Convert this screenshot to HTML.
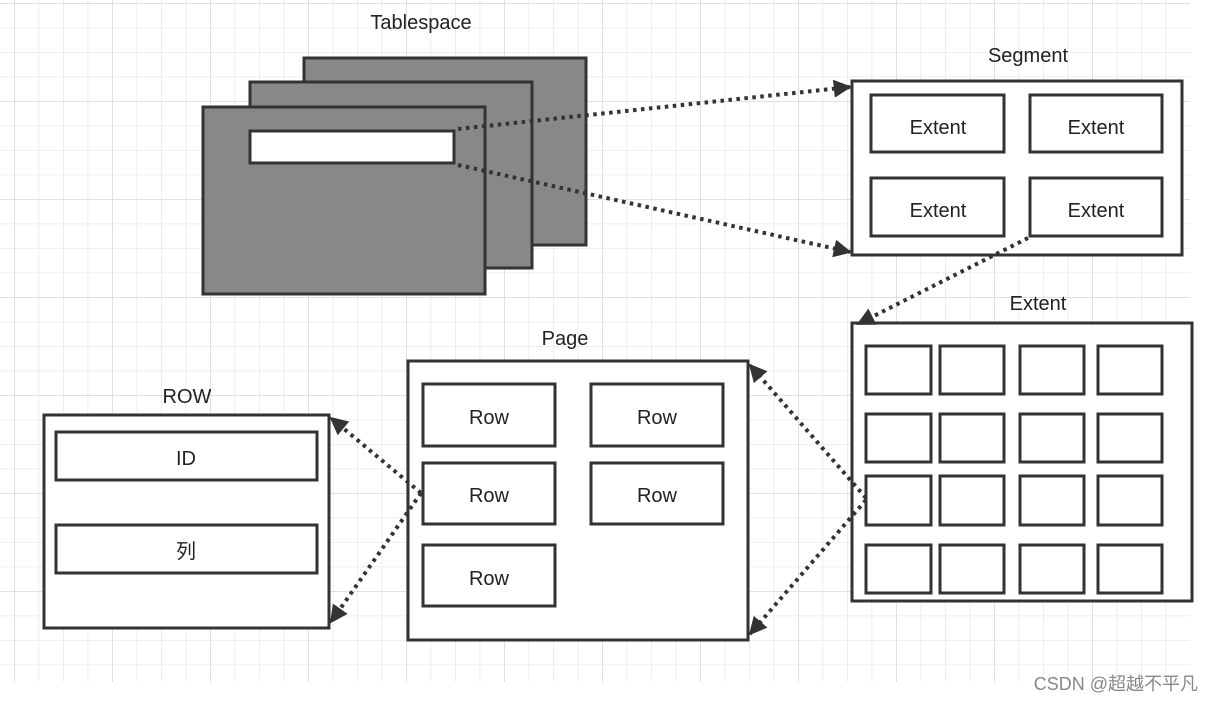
<!DOCTYPE html>
<html><head><meta charset="utf-8"><style>
html,body{margin:0;padding:0;background:#fff;}
svg{display:block;}
text{font-family:"Liberation Sans","Noto Sans CJK SC",sans-serif;fill:#222;}
</style></head><body>
<svg width="1214" height="702" viewBox="0 0 1214 702" xmlns="http://www.w3.org/2000/svg">
<defs>
<pattern id="g" x="14" y="3" width="24.5" height="24.5" patternUnits="userSpaceOnUse">
<path d="M0 0V24.5M0 0H24.5" stroke="#e8e8e8" stroke-width="1.5" fill="none"/>
</pattern>
<pattern id="G" x="14" y="3" width="98" height="98" patternUnits="userSpaceOnUse">
<path d="M0 0V98M0 0H98" stroke="#e0e0e0" stroke-width="2" fill="none"/>
</pattern>
<marker id="b" viewBox="0 0 10 10" refX="9" refY="5" markerWidth="22" markerHeight="18" orient="auto" markerUnits="userSpaceOnUse">
<path d="M0 0L10 5L0 10z" fill="#333"/>
</marker>
</defs>
<rect x="0" y="0" width="1190" height="682" fill="url(#g)"/>
<rect x="0" y="0" width="1190" height="682" fill="url(#G)"/>

<g stroke="#333" stroke-width="3">
<rect x="304" y="58" width="282" height="187" fill="#888"/>
<rect x="250" y="82" width="282" height="186" fill="#888"/>
<rect x="203" y="107" width="282" height="187" fill="#888"/>
<rect x="250" y="131" width="204" height="32" fill="#fff"/>

<rect x="852" y="81" width="330" height="174" fill="#fff"/>
<rect x="871" y="95" width="133" height="57" fill="#fff"/>
<rect x="1030" y="95" width="132" height="57" fill="#fff"/>
<rect x="871" y="178" width="133" height="58" fill="#fff"/>
<rect x="1030" y="178" width="132" height="58" fill="#fff"/>

<rect x="852" y="323" width="340" height="278" fill="#fff"/>
<g fill="#fff">
<rect x="866" y="346" width="65" height="48"/><rect x="940" y="346" width="64" height="48"/><rect x="1020" y="346" width="64" height="48"/><rect x="1098" y="346" width="64" height="48"/>
<rect x="866" y="414" width="65" height="48"/><rect x="940" y="414" width="64" height="48"/><rect x="1020" y="414" width="64" height="48"/><rect x="1098" y="414" width="64" height="48"/>
<rect x="866" y="476" width="65" height="49"/><rect x="940" y="476" width="64" height="49"/><rect x="1020" y="476" width="64" height="49"/><rect x="1098" y="476" width="64" height="49"/>
<rect x="866" y="545" width="65" height="48"/><rect x="940" y="545" width="64" height="48"/><rect x="1020" y="545" width="64" height="48"/><rect x="1098" y="545" width="64" height="48"/>
</g>

<rect x="408" y="361" width="340" height="279" fill="#fff"/>
<rect x="423" y="384" width="132" height="62" fill="#fff"/>
<rect x="591" y="384" width="132" height="62" fill="#fff"/>
<rect x="423" y="463" width="132" height="61" fill="#fff"/>
<rect x="591" y="463" width="132" height="61" fill="#fff"/>
<rect x="423" y="545" width="132" height="61" fill="#fff"/>

<rect x="44" y="415" width="285" height="213" fill="#fff"/>
<rect x="56" y="432" width="261" height="48" fill="#fff"/>
<rect x="56" y="525" width="261" height="48" fill="#fff"/>
</g>

<g stroke="#333" stroke-width="4" stroke-dasharray="3.5 4.5" fill="none">
<line x1="458" y1="129" x2="850" y2="87" marker-end="url(#b)"/>
<line x1="458" y1="165" x2="850" y2="252" marker-end="url(#b)"/>
<line x1="1028" y1="238" x2="858" y2="324" marker-end="url(#b)"/>
<line x1="866" y1="498" x2="750" y2="365" marker-end="url(#b)"/>
<line x1="866" y1="500" x2="750" y2="634" marker-end="url(#b)"/>
<line x1="421" y1="493" x2="331" y2="418" marker-end="url(#b)"/>
<line x1="421" y1="493" x2="331" y2="622" marker-end="url(#b)"/>
</g>

<g font-size="20" text-anchor="middle">
<text x="421" y="29">Tablespace</text>
<text x="1028" y="62">Segment</text>
<text x="1038" y="310">Extent</text>
<text x="565" y="345">Page</text>
<text x="187" y="403">ROW</text>
<text x="938" y="134">Extent</text>
<text x="1096" y="134">Extent</text>
<text x="938" y="217">Extent</text>
<text x="1096" y="217">Extent</text>
<text x="489" y="424">Row</text>
<text x="657" y="424">Row</text>
<text x="489" y="502">Row</text>
<text x="657" y="502">Row</text>
<text x="489" y="585">Row</text>
<text x="186" y="465">ID</text>
<text x="186" y="558">列</text>
</g>
<text x="1198" y="690" font-size="18" text-anchor="end" style="fill:#888">CSDN @超越不平凡</text>
</svg>
</body></html>
